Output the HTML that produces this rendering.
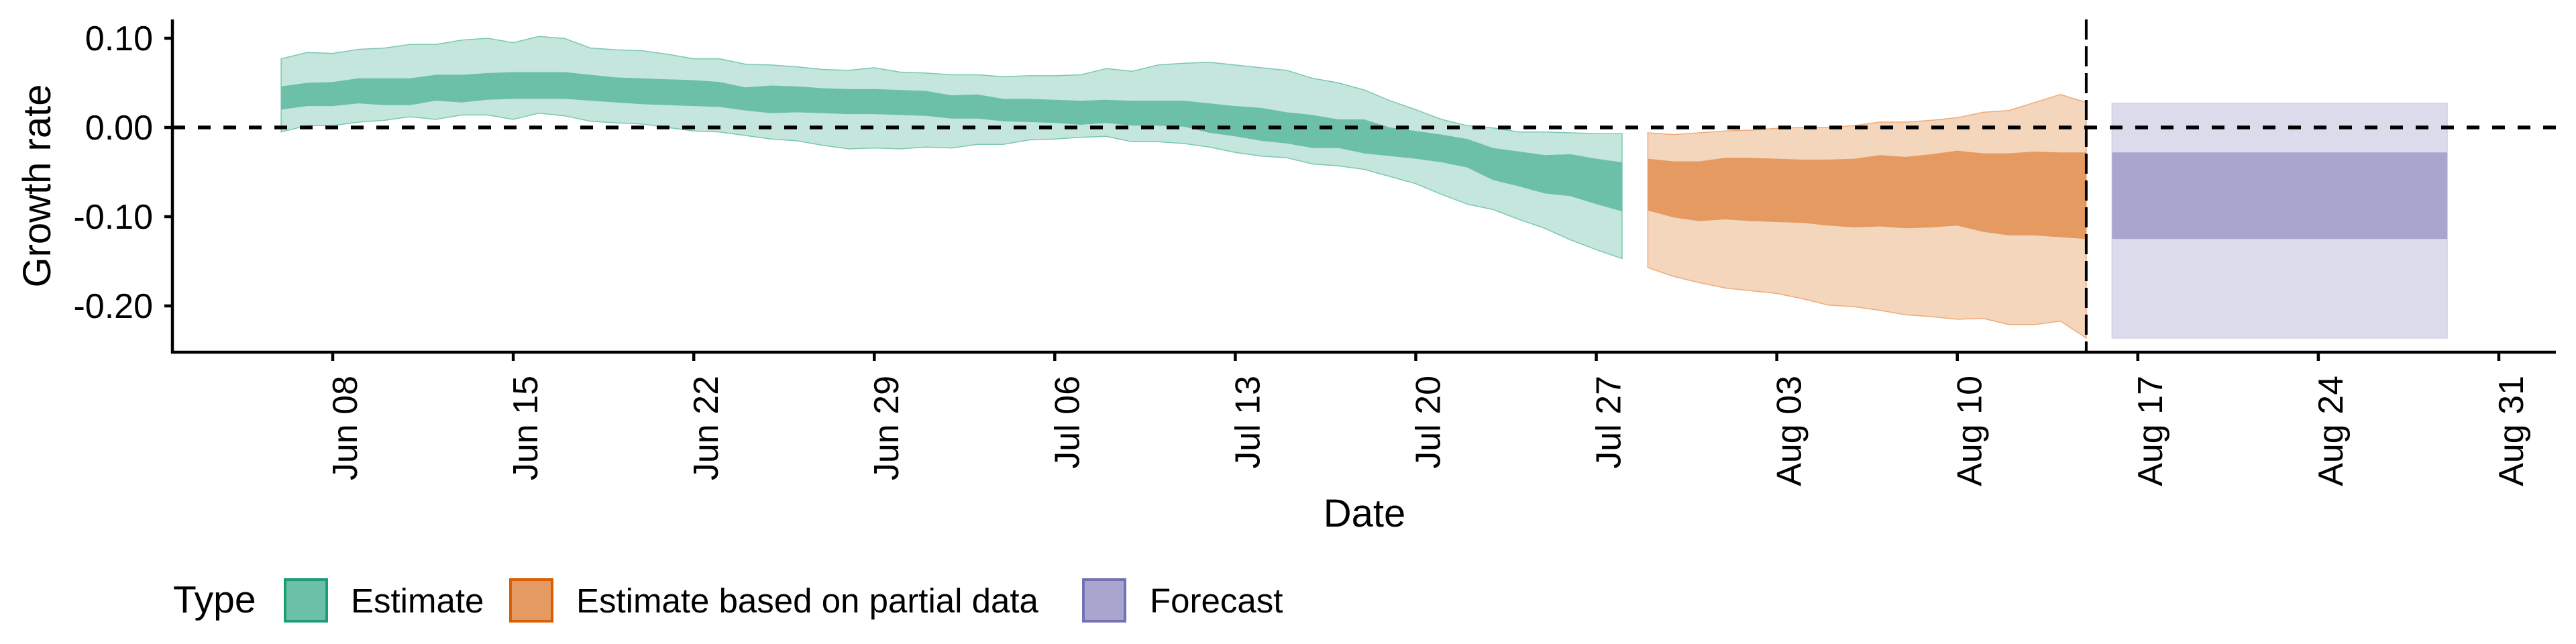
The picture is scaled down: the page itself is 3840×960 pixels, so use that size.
<!DOCTYPE html>
<html>
<head>
<meta charset="utf-8">
<style>
html,body{margin:0;padding:0;background:#fff;}
svg{display:block;font-family:"Liberation Sans",Arial,sans-serif;}
</style>
</head>
<body>
<svg id="chart" width="3840" height="960" viewBox="0 0 3840 960" xmlns="http://www.w3.org/2000/svg">
<g id="plot"></g>
<g id="axes"></g>
<text x="0" y="0" transform="translate(75,277) rotate(-90)" text-anchor="middle" font-size="58" fill="#000">Growth rate</text>
<text x="2034" y="785" text-anchor="middle" font-size="58" fill="#000">Date</text>
<g>
  <text x="258" y="913" font-size="57" fill="#000">Type</text>
  <g>
    <rect x="425" y="864" width="62" height="62" fill="#6cc0a8" stroke="#1b9e77" stroke-width="4"/>
    <text x="523" y="913" font-size="51" fill="#000">Estimate</text>
  </g>
  <g>
    <rect x="761" y="864" width="62" height="62" fill="#e49a60" stroke="#d95f02" stroke-width="4"/>
    <text x="859" y="913" font-size="51" fill="#000">Estimate based on partial data</text>
  </g>
  <g>
    <rect x="1615" y="864" width="62" height="62" fill="#a8a6cf" stroke="#7570b3" stroke-width="4"/>
    <text x="1714" y="913" font-size="51" fill="#000">Forecast</text>
  </g>
</g>
</svg>
<script>
// ---- data ----
const estStartDate = "2020-06-06";
const estUpperOuter = [0.077,0.084,0.083,0.0875,0.089,0.093,0.093,0.098,0.100,0.095,0.102,0.0996,0.089,0.087,0.086,0.082,0.077,0.077,0.071,0.070,0.068,0.065,0.064,0.067,0.062,0.061,0.059,0.059,0.057,0.058,0.058,0.059,0.066,0.063,0.070,0.072,0.073,0.070,0.067,0.064,0.055,0.050,0.042,0.030,0.020,0.009,0.002,-0.0005,-0.005,-0.005,-0.006,-0.007,-0.007];
const estUpperInner = [0.046,0.050,0.051,0.055,0.055,0.055,0.059,0.059,0.061,0.062,0.062,0.062,0.059,0.056,0.055,0.054,0.053,0.051,0.045,0.047,0.046,0.044,0.043,0.043,0.042,0.041,0.036,0.037,0.032,0.032,0.031,0.030,0.031,0.030,0.030,0.030,0.027,0.024,0.022,0.017,0.014,0.009,0.009,0.000,-0.004,-0.008,-0.013,-0.023,-0.027,-0.031,-0.030,-0.035,-0.039];
const estLowerInner = [0.020,0.024,0.024,0.027,0.025,0.025,0.030,0.028,0.031,0.032,0.032,0.032,0.030,0.028,0.026,0.025,0.024,0.023,0.019,0.016,0.017,0.016,0.015,0.015,0.014,0.013,0.010,0.010,0.007,0.006,0.005,0.003,0.005,0.002,0.002,0.001,-0.006,-0.010,-0.015,-0.018,-0.023,-0.023,-0.029,-0.032,-0.035,-0.039,-0.045,-0.059,-0.066,-0.074,-0.077,-0.086,-0.094];
const estLowerOuter = [-0.005,0.002,0.002,0.006,0.008,0.012,0.009,0.014,0.014,0.009,0.016,0.013,0.007,0.005,0.004,0.000,-0.004,-0.005,-0.009,-0.013,-0.015,-0.020,-0.024,-0.023,-0.024,-0.022,-0.023,-0.019,-0.019,-0.014,-0.013,-0.011,-0.010,-0.016,-0.016,-0.018,-0.022,-0.028,-0.032,-0.034,-0.041,-0.043,-0.047,-0.055,-0.063,-0.075,-0.086,-0.092,-0.103,-0.113,-0.126,-0.137,-0.147];
const partStartDate = "2020-07-29";
const partUpperOuter = [-0.006,-0.008,-0.006,-0.004,-0.003,-0.001,0.000,0.000,0.002,0.006,0.006,0.008,0.011,0.017,0.019,0.028,0.037,0.028];
const partUpperInner = [-0.035,-0.038,-0.038,-0.034,-0.034,-0.035,-0.036,-0.036,-0.035,-0.031,-0.033,-0.030,-0.026,-0.029,-0.029,-0.027,-0.028,-0.028];
const partLowerInner = [-0.093,-0.101,-0.105,-0.103,-0.105,-0.106,-0.107,-0.110,-0.112,-0.111,-0.113,-0.112,-0.110,-0.117,-0.121,-0.121,-0.123,-0.125];
const partLowerOuter = [-0.157,-0.167,-0.174,-0.180,-0.183,-0.186,-0.192,-0.199,-0.201,-0.205,-0.210,-0.212,-0.215,-0.214,-0.221,-0.221,-0.217,-0.236];
const forecastDates = ["2020-08-16","2020-08-29"];
const forecastBands = [0.027,-0.028,-0.125,-0.236]; // upper outer, upper inner, lower inner, lower outer
const yTicks = [0.10,0.00,-0.10,-0.20];
const yTickLabels = ["0.10","0.00","-0.10","-0.20"];
const xTickDates = ["2020-06-08","2020-06-15","2020-06-22","2020-06-29","2020-07-06","2020-07-13","2020-07-20","2020-07-27","2020-08-03","2020-08-10","2020-08-17","2020-08-24","2020-08-31"];
const xTickLabels = ["Jun 08","Jun 15","Jun 22","Jun 29","Jul 06","Jul 13","Jul 20","Jul 27","Aug 03","Aug 10","Aug 17","Aug 24","Aug 31"];
const dataCutoffDate = "2020-08-15";
const refLineValue = 0;
</script>
<script>
const NS="http://www.w3.org/2000/svg";
const DAY=86400000;
const origin=Date.parse("2020-06-08");
function dayOf(s){return (Date.parse(s)-origin)/DAY;}
function xs(d){return 496+38.44*d;}
function ys(v){return 190-v*1330;}
const plotL=257, plotR=3810, plotT=29, plotB=525;
const plot=document.getElementById('plot');
const axes=document.getElementById('axes');
function mk(tag,attrs,parent){const e=document.createElementNS(NS,tag);for(const k in attrs)e.setAttribute(k,attrs[k]);parent.appendChild(e);return e;}
function band(start,upper,lower,fill,stroke,name){
  const d0=dayOf(start);let pts=[];
  for(let i=0;i<upper.length;i++)pts.push(xs(d0+i).toFixed(1)+","+ys(upper[i]).toFixed(1));
  for(let i=lower.length-1;i>=0;i--)pts.push(xs(d0+i).toFixed(1)+","+ys(lower[i]).toFixed(1));
  const p=mk('polygon',{points:pts.join(' '),fill:fill,stroke:stroke,'stroke-width':stroke==='none'?0:1.5},plot);
  
  
}
band(estStartDate,estUpperOuter,estLowerOuter,'#c4e6dc','#7cc8b1','estimate-outer-band');
band(estStartDate,estUpperInner,estLowerInner,'#6cc0a8','none','estimate-inner-band');
band(partStartDate,partUpperOuter,partLowerOuter,'#f4d6bd','#eeab78','partial-outer-band');
band(partStartDate,partUpperInner,partLowerInner,'#e49a60','none','partial-inner-band');
{
  const x0=xs(dayOf(forecastDates[0])), x1=xs(dayOf(forecastDates[1]));
  const r1=mk('rect',{x:x0,y:ys(forecastBands[0]),width:x1-x0,height:ys(forecastBands[3])-ys(forecastBands[0]),fill:'#dcdbeb',stroke:'#cfcde6','stroke-width':1.5},plot);
  
  
  const r2=mk('rect',{x:x0,y:ys(forecastBands[1]),width:x1-x0,height:ys(forecastBands[2])-ys(forecastBands[1]),fill:'#a8a6cf'},plot);
  
  
}
// reference lines
const zl=mk('line',{x1:plotL,x2:plotR,y1:ys(refLineValue),y2:ys(refLineValue),stroke:'#000','stroke-width':5.5,'stroke-dasharray':'19 19'},plot);


const vx=xs(dayOf(dataCutoffDate));
const vl=mk('line',{x1:vx,x2:vx,y1:plotT,y2:plotB,stroke:'#000','stroke-width':4,'stroke-dasharray':'30 10'},plot);


// axes
const ya=mk('line',{x1:plotL,x2:plotL,y1:plotT,y2:plotB+2,stroke:'#000','stroke-width':4.5},axes);


const xa=mk('line',{x1:plotL-2,x2:plotR,y1:plotB,y2:plotB,stroke:'#000','stroke-width':4.5},axes);


yTicks.forEach((v,i)=>{
  const y=ys(v);
  const t=mk('line',{x1:plotL-12,x2:plotL,y1:y,y2:y,stroke:'#000','stroke-width':4.5},axes);
  
  
  const l=mk('text',{x:228,y:y+18,'text-anchor':'end','font-size':52,fill:'#000'},axes);
  l.textContent=yTickLabels[i];
  
  
});
xTickDates.forEach((s,i)=>{
  const x=xs(dayOf(s));
  const t=mk('line',{x1:x,x2:x,y1:plotB,y2:plotB+13,stroke:'#000','stroke-width':4.5},axes);
  
  
  const l=mk('text',{x:0,y:0,transform:`translate(${x+36},560) rotate(-90)`,'text-anchor':'end','font-size':52,fill:'#000'},axes);
  l.textContent=xTickLabels[i];
  
  
});
</script>
</body>
</html>
